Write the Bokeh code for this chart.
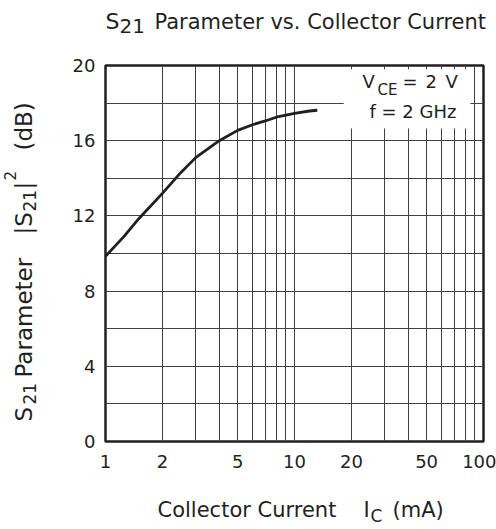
import math
from bokeh.plotting import figure
from bokeh.layouts import column, row
from bokeh.models import FixedTicker, Label, BoxAnnotation, Range1d
from bokeh.embed import file_html
from bokeh.resources import INLINE

# ---- data ----
current_ma = [1, 1.25, 1.5, 2, 2.5, 3, 4, 5, 6, 7, 8, 10, 12, 13.2]
s21_db = [9.85, 10.9, 11.85, 13.2, 14.3, 15.1, 16.0, 16.55, 16.85, 17.05, 17.25, 17.45, 17.58, 17.62]

x_major = [1, 2, 5, 10, 20, 50, 100]
x_minor = [3, 4, 6, 7, 8, 9, 30, 40, 60, 70, 80, 90]
y_major = [0, 4, 8, 12, 16, 20]
y_minor = [2, 6, 10, 14, 18]

# ---- layout constants (page pixels) ----
W, H = 496, 529
TOP_H = 50          # title strip
MID_BOTTOM = 485    # bottom of main figure
YL_W = 45           # y-label strip width
FRAME = dict(left=105, right=483, top=65, bottom=441)
FONT = "DejaVu Sans"
INK = "#231f20"
GRID = "#404040"
BASE_K = 0.37       # baseline correction (fraction of font size)


def blank(width, height):
    f = figure(width=width, height=height, output_backend="svg", toolbar_location=None,
               x_axis_location=None, y_axis_location=None,
               x_range=Range1d(0, 1), y_range=Range1d(0, 1),
               min_border=0, min_border_left=0, min_border_right=0,
               min_border_top=0, min_border_bottom=0)
    f.outline_line_color = None
    f.background_fill_color = "white"
    f.border_fill_color = "white"
    f.grid.visible = False
    return f


def lab(fig, ox, obottom, text, X, Y, size, rotated=False):
    if rotated:
        X = X - BASE_K * size
    else:
        Y = Y - BASE_K * size
    fig.add_layout(Label(x=X - ox, y=obottom - Y, x_units="screen", y_units="screen",
                         text=text, text_font=FONT, text_font_size=f"{size}px",
                         text_color=INK, text_align="left", text_baseline="alphabetic",
                         angle=math.pi / 2 if rotated else 0.0))


# ---- title strip ----
title_fig = blank(W, TOP_H)
lab(title_fig, 0, TOP_H, "S", 105, 29, 22)
lab(title_fig, 0, TOP_H, "21", 119, 33, 20)
lab(title_fig, 0, TOP_H, "Parameter vs. Collector Current", 154, 29, 21)

# ---- y label strip (its frame is aligned with the main frame) ----
ylab_fig = blank(YL_W, MID_BOTTOM - TOP_H)
for text, X, Y, size in [("S", 31.7, 421, 23), ("21", 35.5, 404, 17),
                         ("Parameter", 31.7, 377, 23), ("|S", 31.7, 234, 23),
                         ("21", 35.5, 211, 17), ("|", 31.7, 189, 23),
                         ("2", 15, 180, 15), ("(dB)", 31.7, 150, 23)]:
    lab(ylab_fig, 0, FRAME["bottom"], text, X, Y, size, rotated=True)

# ---- main chart ----
p = figure(width=W - YL_W, height=MID_BOTTOM - TOP_H, x_axis_type="log",
           x_range=Range1d(1, 100), y_range=Range1d(0, 20),
           output_backend="svg", toolbar_location=None,
           min_border_left=FRAME["left"] - YL_W, min_border_top=FRAME["top"] - TOP_H,
           min_border_right=W - FRAME["right"], min_border_bottom=MID_BOTTOM - FRAME["bottom"])
p.background_fill_color = "white"
p.border_fill_color = "white"
p.outline_line_color = INK
p.outline_line_width = 2.5

p.xaxis.ticker = FixedTicker(ticks=x_major, minor_ticks=x_minor)
p.yaxis.ticker = FixedTicker(ticks=y_major, minor_ticks=y_minor)
p.xaxis.major_label_overrides = {v: str(v) for v in x_major}

for ax in (p.xaxis[0], p.yaxis[0]):
    ax.axis_line_color = None
    ax.major_tick_line_color = None
    ax.minor_tick_line_color = None
    ax.major_tick_out = 0
    ax.major_tick_in = 0
    ax.minor_tick_out = 0
    ax.minor_tick_in = 0
    ax.major_label_text_font = FONT
    ax.major_label_text_font_size = "18px"
    ax.major_label_text_color = INK
p.yaxis.major_label_standoff = 10
p.xaxis.major_label_standoff = 13

for g in (p.xgrid[0], p.ygrid[0]):
    g.grid_line_color = GRID
    g.grid_line_width = 1
    g.minor_grid_line_color = GRID
    g.minor_grid_line_width = 1

p.line(current_ma, s21_db, line_color=INK, line_width=2.8)

# white box behind the condition text
p.add_layout(BoxAnnotation(left=18.2, right=85.3, bottom=16.65, top=19.8,
                           fill_color="white", fill_alpha=1.0, line_color=None))

FL, FB = FRAME["left"], FRAME["bottom"]
lab(p, FL, FB, "V", 362, 88, 18)
lab(p, FL, FB, "CE", 377, 95, 15)
lab(p, FL, FB, "=", 402, 88, 18)
lab(p, FL, FB, "2", 425, 88, 18)
lab(p, FL, FB, "V", 445, 88, 18)
lab(p, FL, FB, "f = 2 GHz", 369, 118, 18)

# ---- x label strip ----
xlab_fig = blank(W, H - MID_BOTTOM)
lab(xlab_fig, 0, H, "Collector Current", 157, 517, 21)
lab(xlab_fig, 0, H, "I", 363, 517, 21)
lab(xlab_fig, 0, H, "C", 370, 522, 17)
lab(xlab_fig, 0, H, "(mA)", 392, 517, 21)

layout = column(title_fig, row(ylab_fig, p, spacing=0), xlab_fig, spacing=0)

open("out.html", "w").write(file_html(layout, INLINE))
